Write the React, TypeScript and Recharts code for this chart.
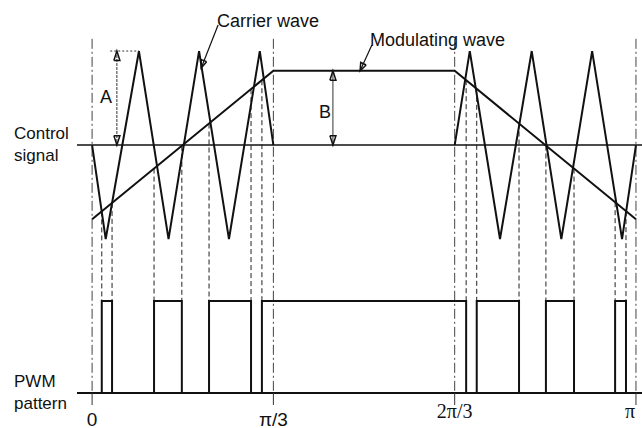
import { LineChart, Line, XAxis, YAxis, ReferenceLine, ReferenceDot } from "recharts";

const FONT = "'Liberation Sans', Arial, sans-serif";
const SERIF = "'Liberation Serif', 'Times New Roman', serif";
const INK = "#111";

// x in degrees (0..180 = 0..π), y in units of carrier amplitude A
const CARRIER_LEFT = [
  { x: 0, y: 0 },
  { x: 4.5, y: -1 },
  { x: 15.5, y: 1 },
  { x: 25.3, y: -1 },
  { x: 35.4, y: 1 },
  { x: 45.3, y: -1 },
  { x: 55.5, y: 1 },
  { x: 60, y: 0 },
];
const CARRIER_RIGHT = [
  { x: 120, y: 0 },
  { x: 125, y: 1 },
  { x: 135, y: -1 },
  { x: 145.5, y: 1 },
  { x: 155.3, y: -1 },
  { x: 165.5, y: 1 },
  { x: 175.4, y: -1 },
  { x: 180, y: 0 },
];
const MODULATING = [
  { x: 0, y: -0.79 },
  { x: 60, y: 0.79 },
  { x: 120, y: 0.79 },
  { x: 180, y: -0.79 },
];

// PWM pulses (on intervals) and where the dashed guides start on the modulating wave
const PWM_LOW = -2.638;
const PWM_HIGH = -1.66;
const PWM_ON = [
  [3.2, 6.6],
  [20.5, 29.7],
  [38.7, 52.6],
  [56.2, 123.8],
  [127.3, 141.3],
  [150.2, 159.5],
  [173.1, 176.7],
];
const DASH_TOPS = [
  { x: 3.2, y: -0.706 },
  { x: 6.6, y: -0.616 },
  { x: 20.5, y: -0.25 },
  { x: 29.7, y: -0.008 },
  { x: 38.7, y: 0.229 },
  { x: 52.6, y: 0.595 },
  { x: 56.2, y: 0.69 },
  { x: 123.8, y: 0.69 },
  { x: 127.3, y: 0.598 },
  { x: 141.3, y: 0.229 },
  { x: 150.2, y: -0.005 },
  { x: 159.5, y: -0.25 },
  { x: 173.1, y: -0.608 },
  { x: 176.7, y: -0.703 },
];

const TICKS = [0, 60, 120, 180];
const TICK_LABELS = ["0", "π/3", "2π/3", "π"];
const SECTION_TOP = 1.13;

// annotation arrows (shafts and heads)
const A_SHAFT = [{ x: 8.2, y: 1 }, { x: 8.2, y: 0 }];
const A_DOTTED = [{ x: 6, y: 1 }, { x: 15.5, y: 1 }];
const B_SHAFT = [{ x: 79.7, y: 0.79 }, { x: 79.7, y: 0 }];
const HEADS = [
  [{ x: 7.2, y: 0.9 }, { x: 8.2, y: 1 }, { x: 9.2, y: 0.9 }, { x: 7.2, y: 0.9 }],
  [{ x: 7.2, y: 0.1 }, { x: 8.2, y: 0 }, { x: 9.2, y: 0.1 }, { x: 7.2, y: 0.1 }],
  [{ x: 78.7, y: 0.69 }, { x: 79.7, y: 0.79 }, { x: 80.7, y: 0.69 }, { x: 78.7, y: 0.69 }],
  [{ x: 78.7, y: 0.1 }, { x: 79.7, y: 0 }, { x: 80.7, y: 0.1 }, { x: 78.7, y: 0.1 }],
  [{ x: 37.9, y: 0.887 }, { x: 36.1, y: 0.819 }, { x: 36.1, y: 0.91 }, { x: 37.9, y: 0.887 }],
  [{ x: 90.7, y: 0.851 }, { x: 88.7, y: 0.79 }, { x: 88.9, y: 0.878 }, { x: 90.7, y: 0.851 }],
];
const LEADERS = [
  [{ x: 41.7, y: 1.277 }, { x: 36.1, y: 0.819 }],
  [{ x: 92.6, y: 1.064 }, { x: 88.7, y: 0.79 }],
];

const LABELS = [
  { x: 58.2, y: 1.32, text: "Carrier wave", size: 18 },
  { x: 114.3, y: 1.117, text: "Modulating wave", size: 18 },
  { x: 4.6, y: 0.51, text: "A", size: 18 },
  { x: 77.1, y: 0.351, text: "B", size: 18 },
];

const pwmTrace = PWM_ON.flatMap(([a, b]) => [
  { x: a, y: PWM_LOW },
  { x: a, y: PWM_HIGH },
  { x: b, y: PWM_HIGH },
  { x: b, y: PWM_LOW },
]);

const sideText = { position: "absolute" as const, left: 14, fontFamily: FONT, fontSize: 17, color: INK, lineHeight: "22px" };

function Tick(props: any) {
  const { x, y, payload, index } = props;
  const serif = index >= 2;
  return (
    <text
      x={x}
      y={y}
      dy={serif ? 1 : 9}
      dominantBaseline="central"
      textAnchor="middle"
      fill={INK}
      fontSize={serif ? 20 : 19}
      fontFamily={serif ? SERIF : FONT}
    >
      {TICK_LABELS[TICKS.indexOf(payload.value)]}
    </text>
  );
}

function TextMark(props: any) {
  const { cx, cy, text, size } = props;
  return (
    <text x={cx} y={cy} textAnchor="middle" dominantBaseline="central" fill={INK} fontSize={size} fontFamily={FONT}>
      {text}
    </text>
  );
}

export default function App() {
  return (
    <div style={{ position: "absolute", left: 0, top: 0, width: 642, height: 428, background: "#fff" }}>
      <div style={{ ...sideText, top: 123 }}>Control<br />signal</div>
      <div style={{ ...sideText, top: 371 }}>PWM<br />pattern</div>
      <LineChart width={642} height={428} margin={{ top: 0, right: 0, bottom: 0, left: 77 }}>
        <XAxis
          type="number"
          dataKey="x"
          domain={[-5, 182]}
          ticks={TICKS}
          tickSize={12}
          tickMargin={5}
          height={35}
          axisLine={{ stroke: INK, strokeWidth: 2 }}
          tickLine={{ stroke: "#333", strokeWidth: 1 }}
          tick={<Tick />}
          allowDataOverflow
        />
        <YAxis type="number" hide domain={[PWM_LOW, 1.543]} allowDataOverflow />

        <ReferenceLine y={0} stroke={INK} strokeWidth={1.6} />
        {TICKS.map((t) => (
          <ReferenceLine
            key={t}
            segment={[{ x: t, y: SECTION_TOP }, { x: t, y: PWM_LOW }]}
            stroke="#444"
            strokeWidth={1}
            strokeDasharray="10 3 2 3"
          />
        ))}
        {DASH_TOPS.map((d, i) => (
          <ReferenceLine
            key={i}
            segment={[{ x: d.x, y: d.y }, { x: d.x, y: PWM_HIGH }]}
            stroke="#222"
            strokeWidth={1}
            strokeDasharray="5 3"
          />
        ))}

        <Line data={CARRIER_LEFT} dataKey="y" type="linear" stroke={INK} strokeWidth={2} dot={false} activeDot={false} isAnimationActive={false} />
        <Line data={CARRIER_RIGHT} dataKey="y" type="linear" stroke={INK} strokeWidth={2} dot={false} activeDot={false} isAnimationActive={false} />
        <Line data={MODULATING} dataKey="y" type="linear" stroke={INK} strokeWidth={2} dot={false} activeDot={false} isAnimationActive={false} />
        <Line data={pwmTrace} dataKey="y" type="linear" stroke={INK} strokeWidth={2} dot={false} activeDot={false} isAnimationActive={false} />

        <Line data={A_DOTTED} dataKey="y" stroke="#333" strokeWidth={1} strokeDasharray="2 2" dot={false} activeDot={false} isAnimationActive={false} />
        <Line data={A_SHAFT} dataKey="y" stroke="#333" strokeWidth={1} strokeDasharray="3 1" dot={false} activeDot={false} isAnimationActive={false} />
        <Line data={B_SHAFT} dataKey="y" stroke="#333" strokeWidth={1} dot={false} activeDot={false} isAnimationActive={false} />
        {LEADERS.map((l, i) => (
          <Line key={"l" + i} data={l} dataKey="y" stroke={INK} strokeWidth={1.2} dot={false} activeDot={false} isAnimationActive={false} />
        ))}
        {HEADS.map((h, i) => (
          <Line key={"h" + i} data={h} dataKey="y" stroke={INK} strokeWidth={1.5} dot={false} activeDot={false} isAnimationActive={false} />
        ))}

        {LABELS.map((l) => (
          <ReferenceDot
            key={l.text}
            x={l.x}
            y={l.y}
            r={0}
            shape={(p: any) => <TextMark {...p} text={l.text} size={l.size} />}
          />
        ))}
      </LineChart>
    </div>
  );
}
